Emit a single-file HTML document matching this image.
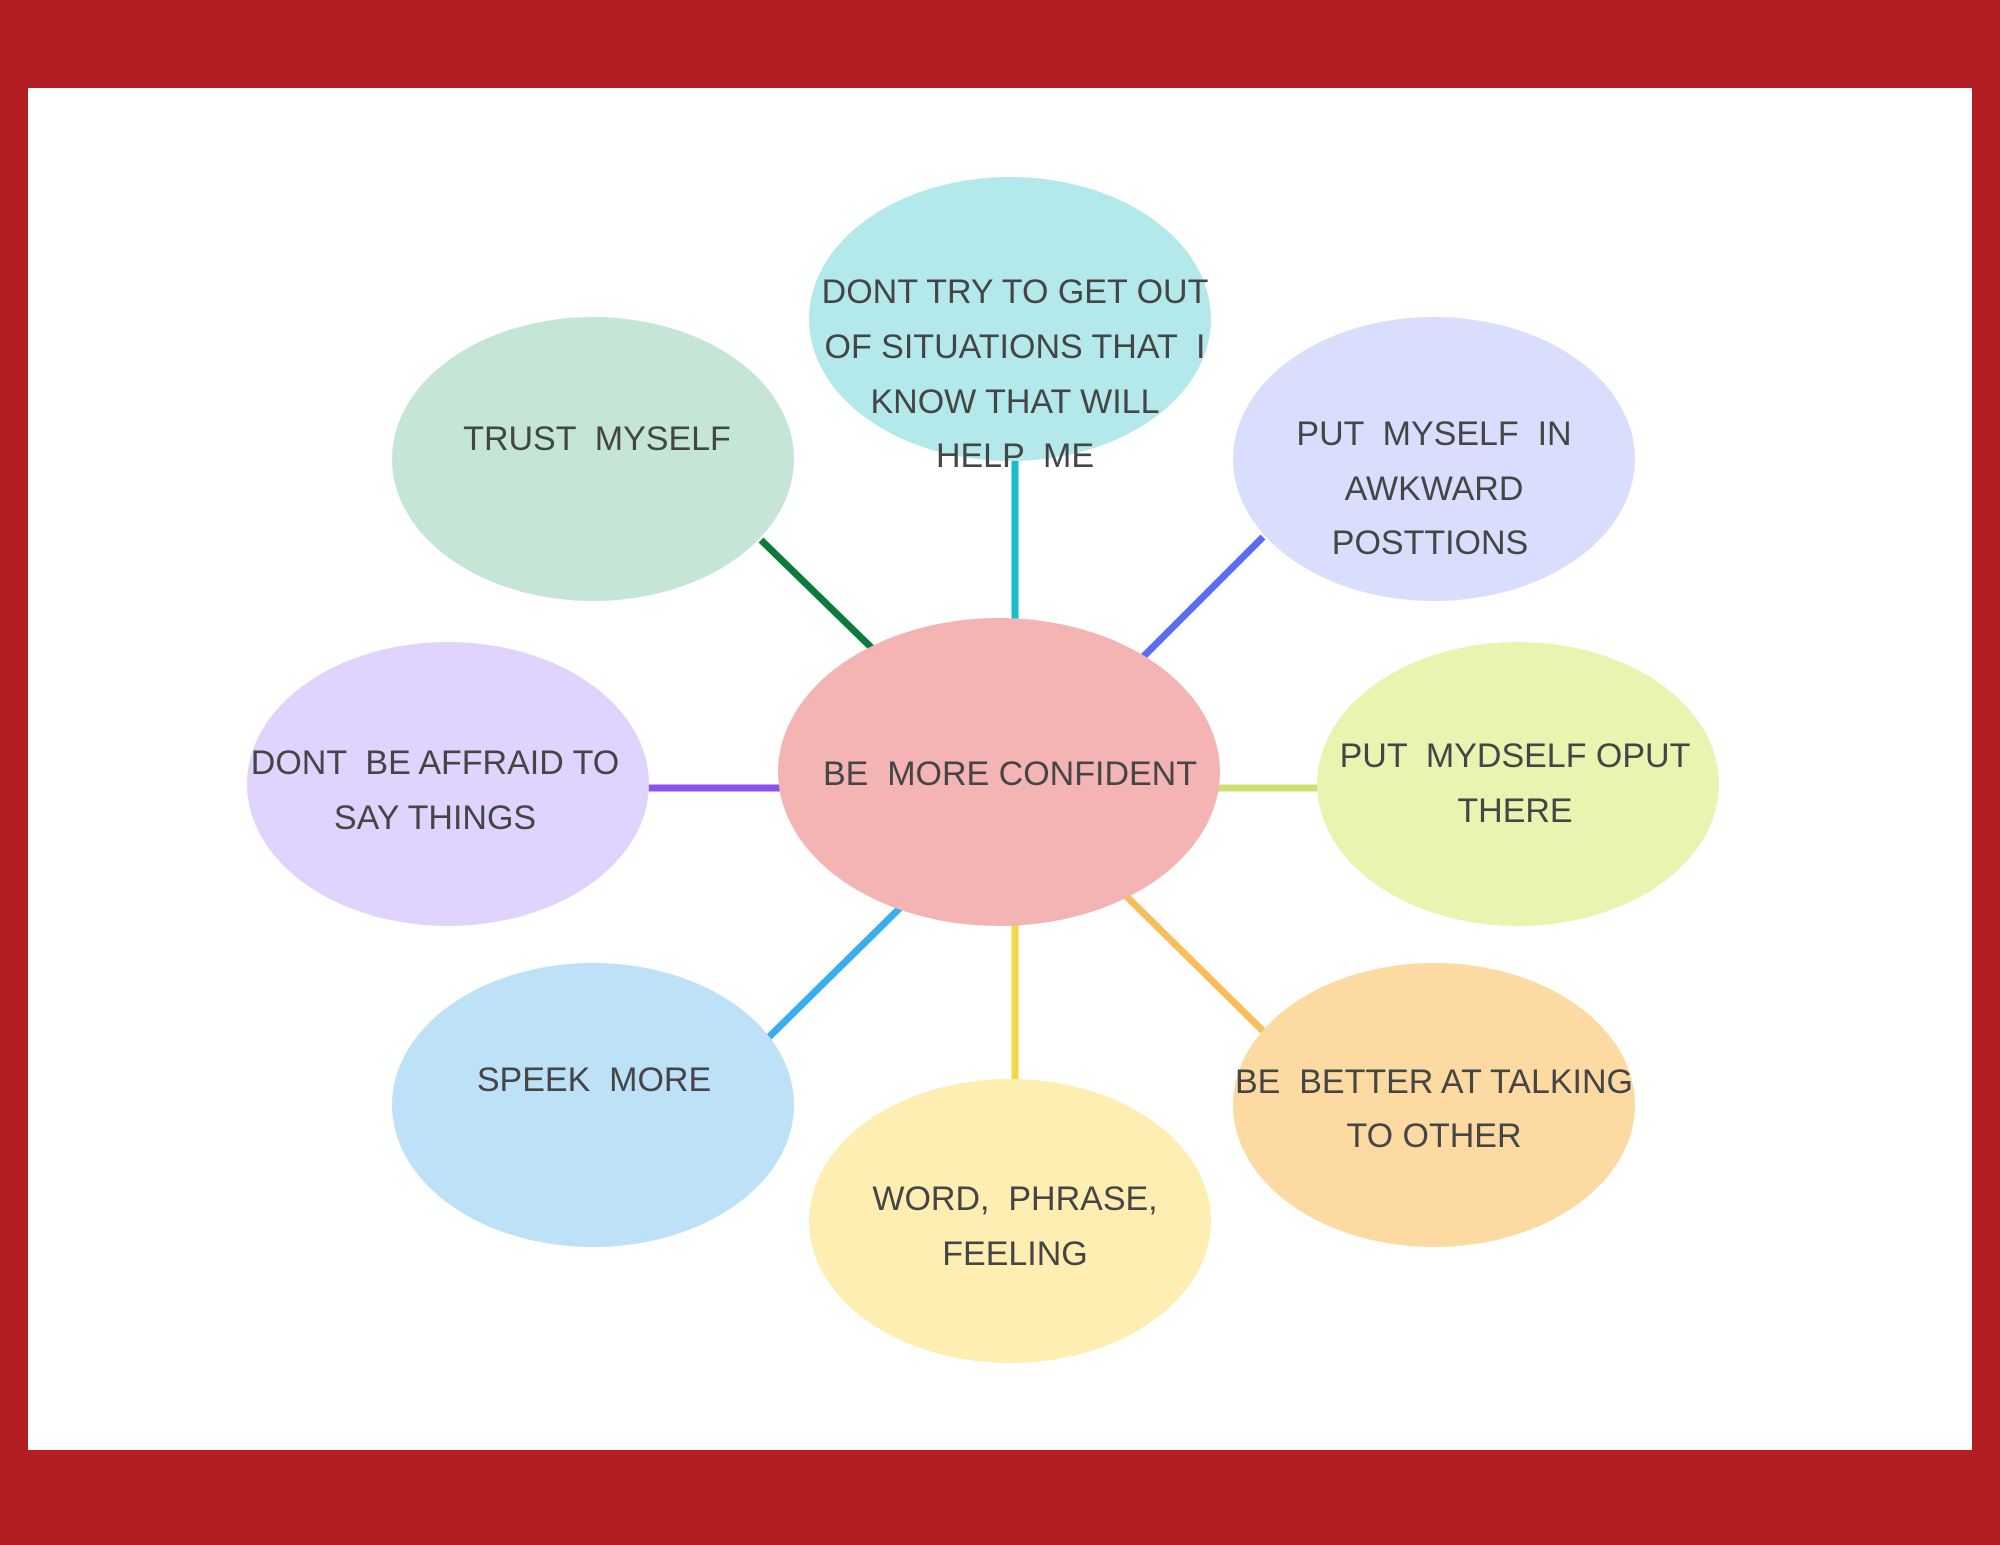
<!DOCTYPE html>
<html><head><meta charset="utf-8"><style>
html,body{margin:0;padding:0;background:#B31E22;}
svg{display:block;}
text{font-family:"Liberation Sans",sans-serif;font-size:34px;fill:#454545;text-anchor:middle;dominant-baseline:central;white-space:pre;}
</style></head><body>
<svg width="2000" height="1545" viewBox="0 0 2000 1545" xmlns="http://www.w3.org/2000/svg" xml:space="preserve">
<rect x="0" y="0" width="2000" height="1545" fill="#B31E22"/>
<rect x="28" y="88" width="1944" height="1362" fill="#FFFFFF"/>
<g stroke-width="7" stroke-linecap="butt">
<line x1="1015" y1="440" x2="1015" y2="630" stroke="#1ABCC9"/>
<line x1="761" y1="540" x2="880" y2="656" stroke="#0B7A3A"/>
<line x1="1263" y1="537" x2="1140" y2="660" stroke="#5B6CF2"/>
<line x1="640" y1="788" x2="790" y2="788" stroke="#8B52EE"/>
<line x1="1210" y1="788" x2="1325" y2="788" stroke="#CDE070"/>
<line x1="905" y1="903" x2="769" y2="1037" stroke="#38AEEF"/>
<line x1="1015" y1="915" x2="1015" y2="1085" stroke="#F5D84A"/>
<line x1="1122" y1="892" x2="1263" y2="1031" stroke="#F8BE5C"/>
</g>
<ellipse cx="1010" cy="319" rx="201" ry="142" fill="#B3E9EA"/>
<ellipse cx="593" cy="459" rx="201" ry="142" fill="#C5E6D6"/>
<ellipse cx="1434" cy="459" rx="201" ry="142" fill="#D9DEFD"/>
<ellipse cx="448" cy="784" rx="201" ry="142" fill="#E0D3FD"/>
<ellipse cx="1518" cy="784" rx="201" ry="142" fill="#E8F4B0"/>
<ellipse cx="593" cy="1105" rx="201" ry="142" fill="#BDE1F6"/>
<ellipse cx="1010" cy="1221" rx="201" ry="142" fill="#FEEEB2"/>
<ellipse cx="1434" cy="1105" rx="201" ry="142" fill="#FDDAA1"/>
<ellipse cx="999" cy="772" rx="221" ry="154" fill="#F4B4B4"/>
<text x="1015" y="292">DONT TRY TO GET OUT</text>
<text x="1015" y="347">OF SITUATIONS THAT  I</text>
<text x="1015" y="402">KNOW THAT WILL</text>
<text x="1015" y="456">HELP  ME</text>
<text x="597" y="439">TRUST  MYSELF</text>
<text x="1434" y="434">PUT  MYSELF  IN</text>
<text x="1434" y="489">AWKWARD</text>
<text x="1430" y="543">POSTTIONS</text>
<text x="435" y="763">DONT  BE AFFRAID TO</text>
<text x="435" y="818">SAY THINGS</text>
<text x="1010" y="774">BE  MORE CONFIDENT</text>
<text x="1515" y="756">PUT  MYDSELF OPUT</text>
<text x="1515" y="811">THERE</text>
<text x="594" y="1080">SPEEK  MORE</text>
<text x="1015" y="1199">WORD,  PHRASE,</text>
<text x="1015" y="1254">FEELING</text>
<text x="1434" y="1082">BE  BETTER AT TALKING</text>
<text x="1434" y="1136">TO OTHER</text>
</svg>
</body></html>
